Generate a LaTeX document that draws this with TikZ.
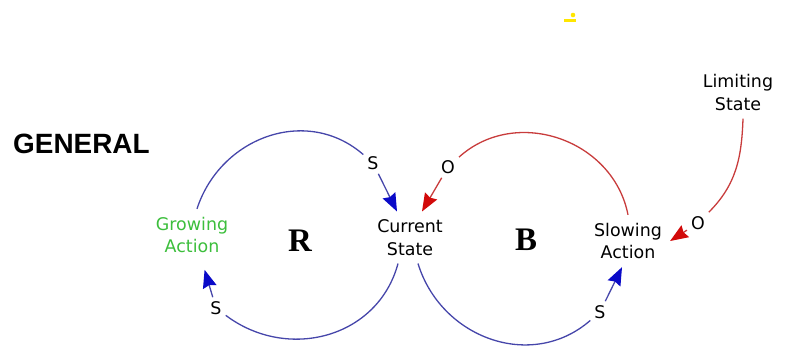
\documentclass[tikz,border=0pt]{standalone}
\usepackage{fontspec}
\setmainfont{DejaVu Sans}
\newfontfamily\headfont{Liberation Sans}
\newfontfamily\loopfont{Liberation Serif}
\usepackage{xcolor}
\usetikzlibrary{arrows.meta,positioning}
\definecolor{LoopBlue}{RGB}{70,70,170}
\definecolor{TipBlue}{RGB}{10,10,200}
\definecolor{LinkRed}{RGB}{200,60,60}
\definecolor{TipRed}{RGB}{210,10,10}
\definecolor{GrowGreen}{RGB}{60,190,60}
\definecolor{MarkYellow}{RGB}{255,230,0}
\tikzset{
    var/.style={align=center, inner sep=8bp, font=\fontsize{17.5}{22.5}\selectfont},
    pol/.style={inner sep=4bp, font=\fontsize{17.5}{20}\selectfont},
    loopname/.style={inner sep=0pt, font=\fontsize{33}{36}\loopfont\bfseries},
    blink/.style={draw=LoopBlue, line width=1.3bp},
    rlink/.style={draw=LinkRed, line width=1.3bp},
    btip/.style={blink, -{Stealth[length=18bp,width=14bp,inset=2bp,color=TipBlue]}},
    rtip/.style={rlink, -{Stealth[length=18bp,width=14bp,inset=2bp,color=TipRed]}}
}

\begin{document}
\begin{tikzpicture}[x=1bp, y=1bp]
    \useasboundingbox (0,0) rectangle (785,345);
    % stray mark at the top
    \fill[MarkYellow] (573,330) circle (2.3);
    \fill[MarkYellow] (564,323) rectangle (576,326);

    \node[anchor=base west, inner sep=0pt, font=\fontsize{28}{30}\headfont\bfseries] (general) at (13,192) {GENERAL};

    \node[var, text=GrowGreen] (grow) at (192,110) {Growing\\Action};
    \node[var] (cur) at (410,107.5) {Current\\State};
    \node[var] (slow) at (628,104) {Slowing\\Action};
    \node[var] (lim) at (738,252.5) {Limiting\\State};
    \node[loopname] (rloop) at (300,104) {R};
    \node[loopname] (bloop) at (526,105) {B};

    % polarity labels
    \node[pol] (s1) at (373,182) {S};
    \node[pol] (s2) at (216,37) {S};
    \node[pol] (s3) at (600,33) {S};
    \node[pol] (o1) at (448,178) {O};
    \node[pol] (o2) at (698,122) {O};

    % R loop
    \draw[blink] ([xshift=5bp]grow.north) to[out=72, in=139, looseness=1.1] (s1);
    \draw[btip] (s1) -- ([xshift=-13bp]cur.north);
    \draw[blink] ([xshift=-12bp]cur.south) to[out=-105, in=-37, looseness=1.1] (s2);
    \draw[btip, shorten >=9bp] (s2) -- ([xshift=10bp]grow.south);

    % B loop
    \draw[blink] ([xshift=8bp]cur.south) to[out=-73, in=-139, looseness=1.1] (s3);
    \draw[btip] (s3) -- ([xshift=-6bp]slow.south);
    \draw[rlink] (slow.north) to[out=101, in=42, looseness=1.1] (o1);
    \draw[rtip] (o1) -- ([xshift=12bp]cur.north);

    % limit
    \draw[rlink] ([xshift=5bp]lim.south) to[out=-92, in=45] (o2);
    \draw[rtip] (o2) -- (slow.east);
\end{tikzpicture}
\end{document}
